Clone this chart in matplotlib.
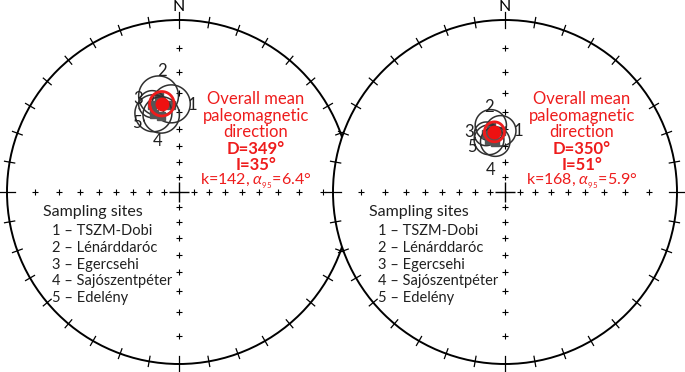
import numpy as np
import matplotlib
matplotlib.use("Agg")
import matplotlib.pyplot as plt
from matplotlib.patches import Circle

# ---------------- data ----------------
site_ids = ["1", "2", "3", "4", "5"]
site_names = ["TSZM-Dobi", "Lénárddaróc", "Egercsehi", "Sajószentpéter", "Edelény"]

# left net (geographic)
left_dec = [355, 348, 343, 347, 342]
left_inc = [36, 31, 34, 41, 39]
left_a95 = [10, 10, 7, 10, 10]
left_mean = dict(D=349, I=35, k=142, a95=6.4)

# right net (tilt corrected)
right_dec = [356, 348, 342, 349, 343]
right_inc = [51, 47, 51, 57, 55]
right_a95 = [9, 9, 7, 9, 9]
right_mean = dict(D=350, I=51, k=168, a95=5.9)

inc_grid = [10, 20, 30, 40, 50, 60, 70, 80]
# label offsets (axes units) for site numbers
lab_off_left = [(0.12, 0.0), (0.02, 0.15), (-0.08, 0.03), (-0.02, -0.15), (-0.10, -0.05)]
lab_off_right = [(0.10, 0.0), (-0.01, 0.11), (-0.10, 0.01), (-0.03, -0.16), (-0.10, -0.04)]

FONT = ["Lato", "DejaVu Sans"]
plt.rcParams["font.family"] = FONT
plt.rcParams["mathtext.fontset"] = "custom"
plt.rcParams["mathtext.rm"] = "Lato"
plt.rcParams["mathtext.it"] = "Lato:italic"

W, H = 685, 372
R = 172.0
CY = 192


def proj(D, I):
    D = np.radians(np.asarray(D, float))
    I = np.radians(np.asarray(I, float))
    n = np.cos(I) * np.cos(D)
    e = np.cos(I) * np.sin(D)
    d = np.sin(I)
    return e / (1 + d), n / (1 + d)


def small_circle(D, I, a):
    D, I, a = np.radians(D), np.radians(I), np.radians(a)
    v = np.array([np.cos(I) * np.cos(D), np.cos(I) * np.sin(D), np.sin(I)])
    tmp = np.array([0, 0, 1.0]) if abs(v[2]) < 0.9 else np.array([1.0, 0, 0])
    u1 = np.cross(v, tmp); u1 /= np.linalg.norm(u1)
    u2 = np.cross(v, u1)
    t = np.linspace(0, 2 * np.pi, 200)
    pts = (np.cos(a) * v[:, None] + np.sin(a) * (np.outer(u1, np.cos(t)) + np.outer(u2, np.sin(t))))
    n, e, d = pts
    return e / (1 + d), n / (1 + d)


def draw_net(ax, cxp, decs, incs, a95s, mean, offs, white):
    ax.set_xlim(-1, 1); ax.set_ylim(-1, 1); ax.set_aspect("equal"); ax.axis("off")
    if white:
        ax.add_patch(Circle((0, 0), 1, facecolor="white", edgecolor="none", zorder=0))
    ax.add_patch(Circle((0, 0), 1, facecolor="none", edgecolor="black", lw=1.4, zorder=2, clip_on=False))
    # primitive ticks
    for az in range(0, 360, 10):
        a = np.radians(az)
        L = 0.03 if az % 90 else 0.045
        ax.plot([(1 - L) * np.sin(a), (1 + L) * np.sin(a)], [(1 - L) * np.cos(a), (1 + L) * np.cos(a)],
                color="black", lw=0.9, clip_on=False, zorder=2)
    # axis crosses
    for az in [0, 90, 180, 270]:
        x, y = proj([az] * len(inc_grid), inc_grid)
        ax.plot(x, y, ls="none", marker="+", ms=4.5, mew=0.8, color="black", zorder=2)
    ax.plot([0], [0], ls="none", marker="+", ms=14, mew=1.0, color="black", zorder=2)
    ax.text(0, 1.05, "N", ha="center", va="baseline", fontsize=11.5, color="black")
    # site circles
    for D, I, a, (ox, oy), lab in zip(decs, incs, a95s, offs, site_ids):
        cx, cy = small_circle(D, I, a)
        ax.plot(cx, cy, color="#303030", lw=1.1, zorder=3)
        x, y = proj(D, I)
        ax.plot([x], [y], marker="s", ms=6, color="#555555", zorder=3)
        ax.text(x + ox, y + oy, lab, ha="center", va="center", fontsize=12, color="#202020", zorder=4)
    cx, cy = small_circle(mean["D"], mean["I"], mean["a95"])
    ax.plot(cx, cy, color="#ee1c1c", lw=2.0, zorder=5)
    mx, my = proj(mean["D"], mean["I"])
    ax.plot([mx], [my], marker="o", ms=9, color="#ee1111", mec="#ee1111", zorder=6)
    # red text
    red = "#ee1c1c"
    tx = (256 - 179) / R
    ys = [(CY - p) / R for p in [99, 115.5, 132, 148.5, 164.5, 181]]
    fs = 12
    ax.text(tx, ys[0], "Overall mean", ha="center", va="center", fontsize=fs, color=red)
    ax.text(tx, ys[1], "paleomagnetic", ha="center", va="center", fontsize=fs, color=red)
    ax.text(tx, ys[2], "direction", ha="center", va="center", fontsize=fs, color=red)
    ax.text(tx, ys[3], f"D={mean['D']}°", ha="center", va="center", fontsize=fs, color=red, weight="bold")
    ax.text(tx, ys[4], f"I={mean['I']}°", ha="center", va="center", fontsize=fs, color=red, weight="bold")
    ax.text(tx, ys[5], f"k={mean['k']}, " + r"$\alpha_{_{95}}$" + f"={mean['a95']}°", ha="center",
            va="center", fontsize=11.5, color=red)
    # sampling sites
    ax.text((43 - 179) / R, (CY - 212) / R, "Sampling sites", ha="left", va="center", fontsize=11.5,
            color="#202020")
    for k, (sid, name) in enumerate(zip(site_ids, site_names)):
        py = 231 + 16.8 * k
        ax.text((52 - 179) / R, (CY - py) / R, f"{sid} – {name}", ha="left", va="center", fontsize=10.5,
                color="#202020")


fig = plt.figure(figsize=(W / 100, H / 100), dpi=100)
for cxp, decs, incs, a95s, mean, offs, white in [
        (179, left_dec, left_inc, left_a95, left_mean, lab_off_left, False),
        (505, right_dec, right_inc, right_a95, right_mean, lab_off_right, True)]:
    ax = fig.add_axes([(cxp - R) / W, (H - CY - R) / H, 2 * R / W, 2 * R / H])
    draw_net(ax, cxp, decs, incs, a95s, mean, offs, white)

fig.savefig("out.png", dpi=100)
